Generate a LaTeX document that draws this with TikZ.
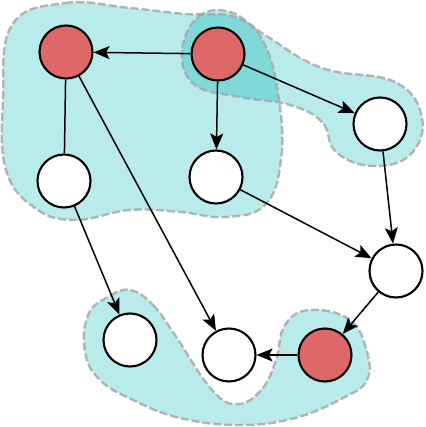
\documentclass[tikz,border=0pt]{standalone}
\usepackage{tikz}
\usetikzlibrary{arrows.meta}
\definecolor{blobcyan}{RGB}{185, 235, 235}
\definecolor{blobdark}{RGB}{128, 217, 217}
\definecolor{blobedge}{RGB}{165, 165, 165}
\definecolor{vertexred}{RGB}{222, 104, 104}

\begin{document}
\begin{tikzpicture}[x=1pt, y=-1pt,
    vertex/.style={circle, draw, line width=2.1pt, minimum size=53pt, inner sep=0pt, fill=white},
    marked/.style={vertex, fill=vertexred},
    link/.style={line width=1.5pt, -{Stealth[length=16pt, width=13pt, inset=3.5pt]}},
    plainlink/.style={line width=1.5pt},
    blobline/.style={draw=blobedge, draw opacity=0.8, line width=2.4pt, dash pattern=on 8pt off 3pt}]
        \useasboundingbox (0, 0) rectangle (425, 427);
        % Big region (left and top)
        \def\bigblob{plot[smooth cycle, tension=0.7] coordinates {(12,25) (65,3) (130,8) (185,14) (235,17) (264,43) (279,100) (281,160) (265,205) (225,217) (180,212) (130,210) (75,220) (35,208) (6,170) (3,100)}}
        % Arm towards the right
        \def\armblob{plot[smooth cycle, tension=0.7] coordinates {(182,52) (198,17) (230,12) (265,35) (322,68) (395,82) (422,118) (410,155) (372,166) (336,152) (322,122) (290,105) (240,97) (195,85)}}
        % Bottom region
        \def\lowblob{plot[smooth cycle, tension=0.7] coordinates {(130,290) (153,305) (175,335) (212,390) (238,404) (262,389) (276,360) (285,325) (310,310) (350,320) (367,352) (367,380) (345,397) (295,418) (239,425) (180,418) (133,400) (100,380) (85,352) (88,315) (108,297)}}
        \fill[blobcyan] \bigblob;
        \fill[blobcyan] \armblob;
        \fill[blobcyan] \lowblob;
        % Overlap of the two upper regions
        \begin{scope}
            \clip \armblob;
            \fill[blobdark] \bigblob;
        \end{scope}
        \draw[blobline] \bigblob;
        \draw[blobline] \armblob;
        \draw[blobline] \lowblob;
        % Vertices
        \node[marked] (v1) at (66, 52) {};
        \node[marked] (v2) at (218, 54) {};
        \node[vertex] (v3) at (64, 181) {};
        \node[vertex] (v4) at (216, 177) {};
        \node[vertex] (v5) at (380, 124) {};
        \node[vertex] (v6) at (396, 271) {};
        \node[vertex] (v7) at (130, 340) {};
        \node[vertex] (v8) at (229, 355) {};
        \node[marked] (v9) at (325, 355) {};
        % Connections
        \draw[link] (v2) -- (v1);
        \draw[plainlink] (v1) -- (v3);
        \draw[link] (v1) -- (v8);
        \draw[link] (v2) -- (v4);
        \draw[link] (v2) -- (v5);
        \draw[link] (v5) -- (v6);
        \draw[link] (v4) -- (v6);
        \draw[link] (v3) -- (v7);
        \draw[link] (v6) -- (v9);
        \draw[link] (v9) -- (v8);
\end{tikzpicture}
\end{document}
